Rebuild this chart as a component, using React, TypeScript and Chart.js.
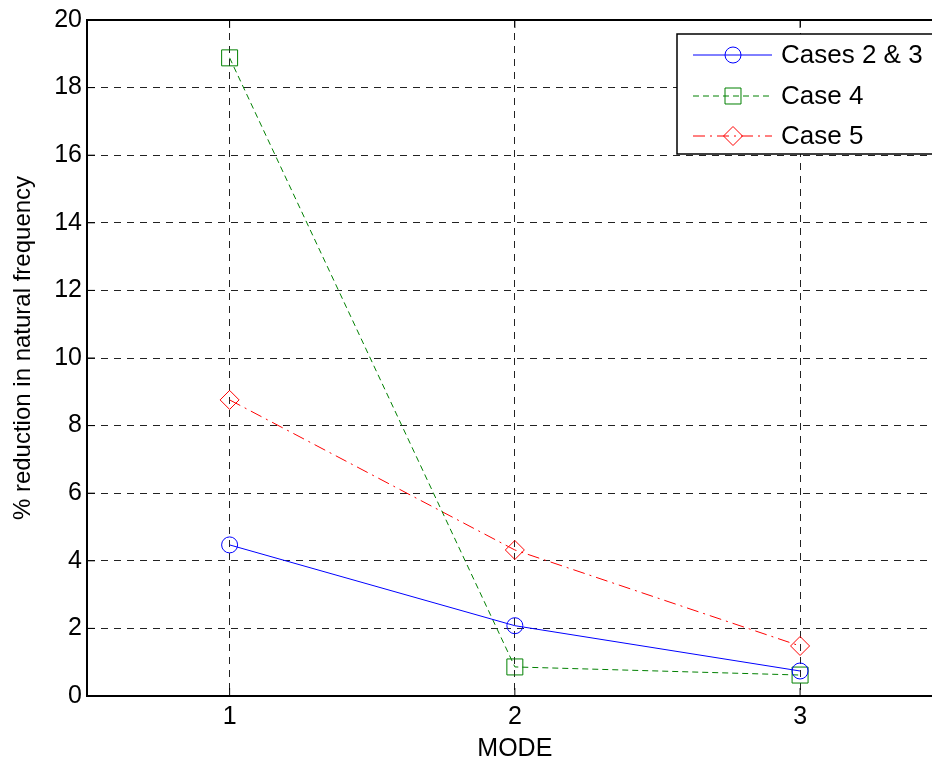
import React, { useEffect, useRef } from 'react';
import { Chart, registerables } from 'chart.js';

Chart.register(...registerables);

// ---- data ----
const modes = [1, 2, 3];
const yTickValues = [0, 2, 4, 6, 8, 10, 12, 14, 16, 18, 20];
const seriesNames = ['Cases 2 & 3', 'Case 4', 'Case 5'];
const cases23 = [4.47, 2.08, 0.74];
const case4 = [18.88, 0.86, 0.62];
const case5 = [8.76, 4.32, 1.48];
const xTitle = 'MODE';
const yTitle = '% reduction in natural frequency';

const FONT = "'Liberation Sans', Arial, Helvetica, sans-serif";

const colors = ['#0000ff', '#008000', '#ff0000'];
const dashes = [[], [6, 4], [12, 5, 2, 5]];
const pointStyles = ['circle', 'rect', 'rectRot'];
const pointRadii = [8, 11.3, 9.5];

function drawMarker(ctx: CanvasRenderingContext2D, style: string, x: number, y: number, r: number) {
  ctx.beginPath();
  if (style === 'circle') {
    ctx.arc(x, y, r, 0, Math.PI * 2);
  } else if (style === 'rect') {
    const s = r * Math.SQRT1_2;
    ctx.rect(x - s, y - s, 2 * s, 2 * s);
  } else {
    ctx.moveTo(x - r, y);
    ctx.lineTo(x, y - r);
    ctx.lineTo(x + r, y);
    ctx.lineTo(x, y + r);
    ctx.closePath();
  }
  ctx.stroke();
}

const framePlugin = {
  id: 'matlabFrame',
  afterDatasetsDraw(chart: any) {
    const { ctx, chartArea } = chart;
    const xs = chart.scales.x;
    const ys = chart.scales.y;
    ctx.save();
    ctx.strokeStyle = '#000';
    ctx.lineWidth = 1;
    ctx.setLineDash([]);
    // inward tick marks
    const tl = 8;
    yTickValues.forEach((v) => {
      const py = ys.getPixelForValue(v);
      ctx.beginPath();
      ctx.moveTo(chartArea.left, py);
      ctx.lineTo(chartArea.left + tl, py);
      ctx.moveTo(chartArea.right, py);
      ctx.lineTo(chartArea.right - tl, py);
      ctx.stroke();
    });
    modes.forEach((v) => {
      const px = xs.getPixelForValue(v);
      ctx.beginPath();
      ctx.moveTo(px, chartArea.bottom);
      ctx.lineTo(px, chartArea.bottom - tl);
      ctx.moveTo(px, chartArea.top);
      ctx.lineTo(px, chartArea.top + tl);
      ctx.stroke();
    });
    // box
    ctx.lineWidth = 2;
    ctx.strokeRect(chartArea.left, chartArea.top, chartArea.right - chartArea.left, chartArea.bottom - chartArea.top);

    // y axis title
    ctx.save();
    ctx.translate(23, 348);
    ctx.rotate(-Math.PI / 2);
    ctx.fillStyle = '#000';
    ctx.font = `24px ${FONT}`;
    ctx.textAlign = 'center';
    ctx.textBaseline = 'middle';
    ctx.fillText(yTitle, 0, 0);
    ctx.restore();

    // legend box
    const bx = 677, by = 34, bw = 300, bh = 120;
    ctx.fillStyle = '#fff';
    ctx.fillRect(bx, by, bw, bh);
    ctx.lineWidth = 1.5;
    ctx.strokeRect(bx, by, bw, bh);
    const rows = [55, 96, 136];
    seriesNames.forEach((name, i) => {
      const y = rows[i];
      ctx.strokeStyle = colors[i];
      ctx.lineWidth = 1;
      ctx.setLineDash(dashes[i]);
      ctx.beginPath();
      ctx.moveTo(693, y);
      ctx.lineTo(772, y);
      ctx.stroke();
      ctx.setLineDash([]);
      drawMarker(ctx, pointStyles[i], 733, y, pointRadii[i]);
      ctx.fillStyle = '#000';
      ctx.font = `26px ${FONT}`;
      ctx.textAlign = 'left';
      ctx.textBaseline = 'middle';
      ctx.fillText(name, 781, y + 1);
    });
    ctx.restore();
  },
};

export default function App() {
  const ref = useRef<HTMLCanvasElement | null>(null);

  useEffect(() => {
    if (!ref.current) return;
    const seriesValues = [cases23, case4, case5];
    const chart = new Chart(ref.current, {
      type: 'line',
      data: {
        datasets: seriesNames.map((name, i) => ({
          label: name,
          data: modes.map((m, j) => ({ x: m, y: seriesValues[i][j] })),
          borderColor: colors[i],
          backgroundColor: 'rgba(0,0,0,0)',
          borderWidth: 1,
          borderDash: dashes[i],
          pointStyle: pointStyles[i] as any,
          pointRadius: pointRadii[i],
          pointBorderColor: colors[i],
          pointBackgroundColor: 'rgba(0,0,0,0)',
          pointBorderWidth: 1,
          tension: 0,
          fill: false,
        })),
      },
      options: {
        animation: false,
        responsive: false,
        devicePixelRatio: 1,
        layout: { padding: { top: 20, right: 2.5, left: 0, bottom: 0 } },
        plugins: {
          legend: { display: false },
          tooltip: { enabled: false },
        },
        scales: {
          x: {
            type: 'linear',
            min: 0.5,
            max: 3.5,
            afterBuildTicks: (scale: any) => {
              scale.ticks = modes.map((v) => ({ value: v }));
            },
            afterFit: (scale: any) => {
              scale.height = 69;
            },
            grid: {
              color: '#222',
              lineWidth: 1,
              drawTicks: false,
            },
            border: { display: true, color: '#000', width: 2, dash: [7, 6] } as any,
            ticks: {
              padding: 6,
              color: '#000',
              font: { family: FONT, size: 25 },
              callback: (v: any) => String(v),
            },
            title: {
              display: true,
              text: xTitle,
              color: '#000',
              font: { family: FONT, size: 25 },
              padding: { top: 0, bottom: 1 },
            },
          },
          y: {
            type: 'linear',
            min: 0,
            max: 20,
            afterBuildTicks: (scale: any) => {
              scale.ticks = yTickValues.map((v) => ({ value: v }));
            },
            afterFit: (scale: any) => {
              scale.width = 87;
            },
            grid: {
              color: '#222',
              lineWidth: 1,
              drawTicks: false,
            },
            border: { display: true, color: '#000', width: 2, dash: [7, 6] } as any,
            ticks: {
              padding: 5,
              color: '#000',
              font: { family: FONT, size: 25 },
            },
            title: { display: false },
          },
        },
      },
      plugins: [framePlugin],
    } as any);
    return () => chart.destroy();
  }, []);

  return (
    <div
      style={{
        position: 'fixed',
        left: 0,
        top: 0,
        width: 932,
        height: 765,
        overflow: 'hidden',
        background: '#fff',
      }}
    >
      <canvas ref={ref} width={955} height={765} style={{ width: 955, height: 765, display: 'block' }} />
    </div>
  );
}
